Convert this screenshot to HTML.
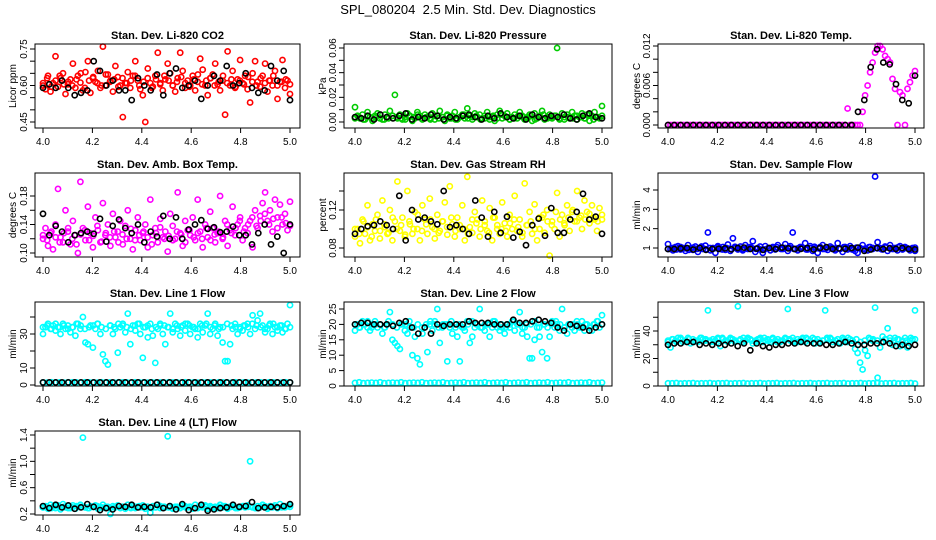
<!DOCTYPE html>
<html><head><meta charset="utf-8"><style>
html,body{margin:0;padding:0;background:#fff;}
svg{display:block;font-family:"Liberation Sans",sans-serif;}
</style></head><body>
<svg id="chart" width="936" height="540" viewBox="0 0 936 540">
<text x="468" y="14" text-anchor="middle" font-size="13" style="white-space:pre">SPL_080204  2.5 Min. Std. Dev. Diagnostics</text>
</svg>
<script>
// ---- data (scaled units per panel) ----
const xTickVals = [4.0, 4.2, 4.4, 4.6, 4.8, 5.0];
const xTickLabels = ["4.0", "4.2", "4.4", "4.6", "4.8", "5.0"];

const co2Red = [600,585,640,575,610,720,595,630,650,565,605,625,690,590,640,612,580,655,700,570,630,615,660,590,760,600,645,620,575,680,635,600,470,610,655,590,640,700,620,585,560,450,670,610,595,640,735,610,580,625,690,650,600,575,630,735,660,590,620,600,640,580,615,710,665,600,560,630,645,690,605,580,620,480,740,600,660,590,625,705,610,640,585,530,650,700,615,595,640,690,575,620,600,660,545,615,705,590,620,565];
const co2RedBand = [610,630,595,620,640,605,615,600,625,650,590,620,635,610,600,645,615,625,595,630,610,620,640,600,615,630,590,625,605,640,620,600,615,635,610,595,625,645,605,620,630,600,615,640,610,625,595,620,605,635,615,600,630,610,620,640,600,615,625,605];
const co2Black = [590,605,590,620,590,560,570,580,700,660,600,620,580,580,540,630,600,580,645,560,650,670,590,600,620,545,600,640,620,680,600,610,650,590,570,580,680,620,660,540];

const presGreen = [12,5,3,6,2,8,4,1,5,7,3,2,6,4,9,5,22,3,6,2,4,7,5,1,3,8,5,2,6,4,3,7,2,5,9,4,1,6,3,5,8,2,4,6,3,11,5,2,7,4,6,3,5,8,2,4,1,6,9,3,5,7,2,4,6,3,8,5,2,4,6,1,7,3,5,9,2,4,6,3,5,60,2,7,4,6,3,8,5,2,4,7,3,6,1,5,8,4,3,13];
const presGreenBand = [3,4,2,5,3,4,6,2,3,5,4,3,2,5,4,6,3,4,2,5,3,4,5,3,2,4,6,3,4,5,2,3,4,5,3,6,4,2,3,5,4,3,5,2,4,6,3,4,5,3,2,4,3,5,4,3,6,2,4,5];
const presBlack = [4,3,5,2,6,4,3,5,7,2,4,3,6,5,2,4,3,5,6,4,2,5,3,7,4,3,5,2,6,4,3,5,4,6,3,2,5,7,4,3];

const tempMag = [0,0,0,0,0,0,0,0,0,0,0,0,0,0,0,0,0,0,0,0,0,0,0,0,0,0,0,0,0,0,0,0,0,0,0,0,0,0,0,0,0,0,0,0,0,0,0,0,0,0,0,0,0,0,0,0,0,0,0,0,0,0,0,0,0,0,0,0,0,0,0,0,25,0,0,0,0,0,20,45,60,80,95,110,120,120,115,105,100,95,70,55,0,50,45,0,55,65,75,82];
const tempBlack = [0,0,0,0,0,0,0,0,0,0,0,0,0,0,0,0,0,0,0,0,0,0,0,0,0,0,0,0,0,0,20,38,88,115,95,92,62,38,33,75];

const ambMag = [120,135,110,128,105,140,190,122,115,160,130,112,145,125,100,200,135,118,165,128,108,150,132,115,170,125,140,110,155,122,130,145,112,138,160,120,105,132,150,118,128,140,108,175,125,135,115,148,122,130,102,155,138,120,185,128,110,145,132,125,150,118,175,130,108,140,122,158,135,115,128,180,120,145,110,132,165,125,140,150,118,135,128,145,108,160,135,152,170,185,145,160,130,175,150,168,140,155,132,172];
const ambMagBand = [125,118,130,122,115,128,135,120,112,126,132,118,124,138,116,128,122,130,115,126,120,134,118,125,130,122,112,128,136,120,124,118,130,126,115,132,122,128,120,135,118,126,130,122,140,128,135,145,130,140,150,138,145,155,140,148,135,150,142,138];
const ambBlack = [155,125,138,130,115,125,128,130,127,148,116,138,147,135,128,140,115,130,123,152,120,150,120,133,140,146,134,136,129,130,137,125,125,112,128,140,112,123,100,140];

const rhYellow = [92,100,85,110,95,125,88,105,98,115,90,130,102,95,120,88,108,150,98,112,92,140,105,95,118,100,88,125,110,95,132,102,90,115,98,108,128,94,145,105,92,112,100,125,88,155,102,96,118,110,92,130,104,98,122,88,112,100,95,128,106,92,115,100,135,98,110,92,148,104,118,95,126,88,100,112,96,120,72,108,100,138,92,115,104,125,98,118,108,140,112,100,130,118,106,125,110,98,122,115];
const rhYellowBand = [100,95,108,102,92,110,98,105,96,112,100,104,94,108,100,115,98,105,110,100,96,108,102,112,98,104,100,95,110,106,100,108,96,112,104,100,98,106,110,102,96,104,108,100,112,115,108,104,118,110,106,112,120,108,114,110,116,112,108,110];
const rhBlack = [95,100,103,104,108,104,100,135,88,120,110,112,108,105,140,102,104,100,95,130,112,92,118,96,113,91,97,83,104,111,93,122,96,96,110,118,137,110,113,95];

const flowBlue = [120,95,88,105,110,92,100,85,115,98,90,108,80,102,95,112,180,88,100,75,110,95,105,90,118,85,150,100,92,108,88,115,95,105,135,80,100,92,75,110,98,88,105,92,115,100,95,120,85,110,180,95,88,105,100,125,92,110,85,98,75,105,115,95,90,108,100,88,125,95,80,105,92,110,98,85,75,100,115,92,88,105,95,470,130,100,92,108,85,115,95,100,88,110,92,105,98,88,100,85];
const flowBlueBand = [95,100,92,105,98,90,102,96,108,94,100,98,104,92,100,96,106,98,94,102,100,96,108,92,100,98,104,95,100,102,96,98,104,92,100,106,98,95,102,100,96,98,104,100,92,102,98,96,104,100,98,94,102,100,96,104,98,100,95,102];
const flowBlack = [95,95,98,100,92,100,90,95,96,98,93,100,102,95,97,90,100,95,102,98,95,96,100,92,100,104,95,98,96,100,102,85,92,100,95,98,96,100,95,93];

const line1Cyan = [30,34,36,33,35,32,34,30,36,33,35,31,34,29,36,33,40,25,24,35,22,33,36,30,18,14,12,35,30,33,19,34,36,31,42,24,35,32,36,30,16,34,28,36,29,13,33,35,30,24,34,42,31,36,33,29,35,32,36,30,34,33,28,36,31,35,42,30,33,36,29,34,25,14,14,24,33,36,30,34,32,35,36,30,41,33,38,42,35,31,33,36,30,34,32,35,31,33,36,47];
const line1CyanBand = [34,35,33,36,34,35,33,34,36,35,33,34,35,36,34,33,35,34,36,35,34,33,35,36,34,35,33,34,36,35,34,33,35,34,36,35,34,33,35,36,34,35,33,34,36,35,34,33,35,34,36,35,34,33,35,36,34,35,33,34];
const line1CyanLow = [1.5,1.4,1.6,1.5,1.5,1.4,1.6,1.5,1.5,1.4,1.6,1.5,1.5,1.4,1.6,1.5,1.5,1.4,1.6,1.5,1.5,1.4,1.6,1.5,1.5,1.4,1.6,1.5,1.5,1.4,1.6,1.5,1.5,1.4,1.6,1.5,1.5,1.4,1.6,1.5,1.5,1.4,1.6,1.5,1.5,1.4,1.6,1.5,1.5,1.4,1.6,1.5,1.5,1.4,1.6,1.5,1.5,1.4,1.6,1.5];
const line1Black = [1.5,1.5,1.5,1.5,1.5,1.5,1.5,1.5,1.5,1.5,1.5,1.5,1.5,1.5,1.5,1.5,1.5,1.5,1.5,1.5,1.5,1.5,1.5,1.5,1.5,1.5,1.5,1.5,1.5,1.5,1.5,1.5,1.5,1.5,1.5,1.5,1.5,1.5,1.5,1.5];

const line2Cyan = [18,20,19,21,20,19,18,20,21,19,20,17,19,20,24,15,14,13,12,20,18,17,19,10,16,9,7,17,19,11,20,18,21,25,14,19,20,8,19,17,20,16,8,19,18,21,14,16,19,20,25,19,18,20,16,19,21,20,18,19,17,20,19,21,18,20,24,17,19,16,9,9,15,19,16,11,20,9,16,21,19,20,18,25,19,17,20,19,18,20,19,21,18,20,19,18,20,21,19,23];
const line2CyanBand = [20,19,20,21,19,20,20,19,21,20,19,20,20,21,19,20,19,20,21,20,19,20,20,21,19,20,19,20,21,20,19,20,20,21,19,20,19,20,21,20,19,20,20,21,19,20,19,20,21,20,19,20,20,21,19,20,19,20,21,20];
const line2CyanLow = [1,1.2,0.9,1,1.1,1,1.2,0.9,1,1.1,1,1.2,0.9,1,1.1,1,1.2,0.9,1,1.1,1,1.2,0.9,1,1.1,1,1.2,0.9,1,1.1,1,1.2,0.9,1,1.1,1,1.2,0.9,1,1.1,1,1.2,0.9,1,1.1,1,1.2,0.9,1,1.1,1,1.2,0.9,1,1.1,1,1.2,0.9,1,1.1];
const line2Black = [20,20.5,20.5,20,20,20,19.5,20.5,21,19,17,19,17,20,19.5,20,20,20,21,20.5,20.5,20.5,20,20,20,21.5,20.5,20.5,21,21.5,21,20.5,19,18,20,19.5,19,18,19,20];

const line3Cyan = [32,28,34,33,35,34,32,33,35,31,34,33,32,35,34,33,55,32,34,33,35,29,34,33,32,35,34,33,58,34,32,33,35,34,31,33,34,35,32,33,34,32,35,33,34,32,33,34,56,33,35,32,34,33,35,32,34,33,35,31,34,32,33,55,34,35,32,33,34,31,35,33,32,34,33,27,24,17,12,26,22,34,33,57,6,28,36,34,42,33,30,35,34,29,33,35,28,33,34,55];
const line3CyanBand = [33,34,32,35,33,34,32,33,35,34,33,32,34,35,33,34,32,33,35,34,33,32,34,35,33,34,32,33,35,34,33,32,34,35,33,34,32,33,35,34,33,32,34,35,33,34,32,33,35,34,33,32,34,35,33,34,32,33,35,34];
const line3CyanLow = [2,2,2.2,1.8,2,2,2.2,1.8,2,2,2.2,1.8,2,2,2.2,1.8,2,2,2.2,1.8,2,2,2.2,1.8,2,2,2.2,1.8,2,2,2.2,1.8,2,2,2.2,1.8,2,2,2.2,1.8,2,2,2.2,1.8,2,2,2.2,1.8,2,2,2.2,1.8,2,2,2.2,1.8,2,2,2.2,1.8];
const line3Black = [30,31,31,32,32,30,31,30,31,30,31,29,31,26,31,29,28,30,30,31,31,32,31,31,31,30,30,31,32,31,30,30,31,31,32,31,29,30,29,30];

const line4Cyan = [30,32,28,34,31,29,33,27,35,30,32,29,33,28,31,34,136,30,29,32,31,33,28,30,34,29,31,20,32,30,33,29,31,28,34,30,32,29,31,30,33,28,31,22,32,30,34,29,31,30,138,32,28,31,30,29,33,32,30,31,28,34,29,31,30,33,28,32,30,31,29,34,30,32,28,31,33,30,29,31,32,30,33,100,31,29,32,30,34,31,28,32,30,33,29,35,31,30,32,34];
const line4CyanBand = [30,31,29,32,30,31,29,30,32,31,30,29,31,32,30,31,29,30,32,31,30,29,31,32,30,31,29,30,32,31,30,29,31,32,30,31,29,30,32,31,30,29,31,32,30,31,29,30,32,31,30,29,31,32,30,31,29,30,32,31];
const line4Black = [32,29,34,30,33,28,30,35,31,26,29,27,32,31,34,30,31,30,34,29,32,27,35,26,29,34,25,27,29,30,34,31,32,38,29,30,31,30,32,35];

// ---- panel definitions (layout) ----
const cols = [{l:35,r:300,x4:43,x5:290,yl:12},{l:344,r:612,x4:355,x5:602,yl:322},{l:658,r:924,x4:668,x5:915,yl:636}];
const rows = [44,173,302,431];
const panels = [
 {name:"co2",title:"Stan. Dev. Li-820 CO2",ylab:"Licor ppm",c:0,r:0,a:[750,49],b:[450,122],ticks:[450,500,550,600,650,700,750],labs:{450:"0.45",600:"0.60",750:"0.75"},series:[[co2Red,"#ff0000"],[co2RedBand,"#ff0000"],[co2Black,"#000"]]},
 {name:"pressure",title:"Stan. Dev. Li-820 Pressure",ylab:"kPa",c:1,r:0,a:[60,48],b:[0,122],ticks:[0,10,20,30,40,50,60],labs:{0:"0.00",20:"0.02",40:"0.04",60:"0.06"},series:[[presGreen,"#00cc00"],[presGreenBand,"#00cc00"],[presBlack,"#000"]]},
 {name:"li820-temp",title:"Stan. Dev. Li-820 Temp.",ylab:"degrees C",c:2,r:0,a:[120,46],b:[0,125],ticks:[0,20,40,60,80,100,120],labs:{0:"0.000",60:"0.006",120:"0.012"},series:[[tempMag,"#ff00ff"],[tempBlack,"#000"]]},
 {name:"amb-box-temp",title:"Stan. Dev. Amb. Box Temp.",ylab:"degrees C",c:0,r:1,a:[180,196],b:[100,253],ticks:[100,120,140,160,180],labs:{100:"0.10",140:"0.14",180:"0.18"},series:[[ambMag,"#ff00ff"],[ambMagBand,"#ff00ff"],[ambBlack,"#000"]]},
 {name:"gas-stream-rh",title:"Stan. Dev. Gas Stream RH",ylab:"percent",c:1,r:1,a:[120,210],b:[80,248],ticks:[80,100,120,140],labs:{80:"0.08",120:"0.12"},series:[[rhYellow,"#ffff00"],[rhYellowBand,"#ffff00"],[rhBlack,"#000"]]},
 {name:"sample-flow",title:"Stan. Dev. Sample Flow",ylab:"ml/min",c:2,r:1,a:[400,190],b:[100,248],ticks:[100,200,300,400],labs:{100:"1",200:"2",300:"3",400:"4"},series:[[flowBlue,"#0000ff"],[flowBlueBand,"#0000ff"],[flowBlack,"#000"]]},
 {name:"line1-flow",title:"Stan. Dev. Line 1 Flow",ylab:"ml/min",c:0,r:2,a:[30,334],b:[0,385],ticks:[0,10,20,30,40],labs:{0:"0",10:"10",30:"30"},series:[[line1Cyan,"#00ffff"],[line1CyanBand,"#00ffff"],[line1CyanLow,"#00ffff"],[line1Black,"#000"]]},
 {name:"line2-flow",title:"Stan. Dev. Line 2 Flow",ylab:"ml/min",c:1,r:2,a:[25,309],b:[0,386],ticks:[0,5,10,15,20,25],labs:{0:"0",5:"5",10:"10",15:"15",20:"20",25:"25"},series:[[line2Cyan,"#00ffff"],[line2CyanBand,"#00ffff"],[line2CyanLow,"#00ffff"],[line2Black,"#000"]]},
 {name:"line3-flow",title:"Stan. Dev. Line 3 Flow",ylab:"ml/min",c:2,r:2,a:[40,331],b:[0,386],ticks:[0,10,20,30,40,50],labs:{0:"0",20:"20",40:"40"},series:[[line3Cyan,"#00ffff"],[line3CyanBand,"#00ffff"],[line3CyanLow,"#00ffff"],[line3Black,"#000"]]},
 {name:"line4-flow",title:"Stan. Dev. Line 4 (LT) Flow",ylab:"ml/min",c:0,r:3,a:[140,435],b:[20,514],ticks:[20,40,60,80,100,120,140],labs:{20:"0.2",60:"0.6",100:"1.0",140:"1.4"},series:[[line4Cyan,"#00ffff"],[line4CyanBand,"#00ffff"],[line4Black,"#000"]]}
];

const NS = "http://www.w3.org/2000/svg";
const svg = document.getElementById("chart");
function mk(tag, attrs, parent){ const e=document.createElementNS(NS,tag); for(const k in attrs) e.setAttribute(k,attrs[k]); parent.appendChild(e); return e; }

panels.forEach(p=>{
  const col=cols[p.c], top=rows[p.r], bot=top+84;
  const g=mk("g",{},svg);
  
  
  const xs=v=>col.x4+(v-4)*(col.x5-col.x4);
  const ys=v=>p.b[1]+(v-p.b[0])*(p.a[1]-p.b[1])/(p.a[0]-p.b[0]);
  const t=mk("text",{x:(col.l+col.r)/2,y:top-5,"text-anchor":"middle","font-size":"11","font-weight":"bold"},g);
  t.textContent=p.title;
  
  
  const yl=mk("text",{x:0,y:0,transform:`translate(${col.yl+4},${(top+bot)/2}) rotate(-90)`,"text-anchor":"middle","font-size":"10"},g);
  yl.textContent=p.ylab;
  
  
  p.series.forEach(([arr,color])=>{
    const n=arr.length;
    arr.forEach((v,i)=>{
      const c=mk("circle",{cx:xs(4+i/(n-1)).toFixed(1),cy:ys(v).toFixed(1),r:2.6,fill:"none",stroke:color,"stroke-width":1.6},g);
      
      
    });
  });
  const bx=mk("rect",{x:col.l,y:top,width:col.r-col.l,height:bot-top,fill:"none",stroke:"#000","stroke-width":1},g);
  
  
  xTickVals.forEach((v,i)=>{
    mk("line",{x1:xs(v),x2:xs(v),y1:bot,y2:bot+5,stroke:"#000"},g);
    const tl=mk("text",{x:xs(v),y:bot+17,"text-anchor":"middle","font-size":"10"},g);
    tl.textContent=xTickLabels[i];
    
    
  });
  p.ticks.forEach(v=>{
    mk("line",{x1:col.l,x2:col.l-5,y1:ys(v),y2:ys(v),stroke:"#000"},g);
    if(p.labs[v]!==undefined){
      const tl=mk("text",{x:0,y:0,transform:`translate(${col.l-8},${ys(v)}) rotate(-90)`,"text-anchor":"middle","font-size":"10"},g);
      tl.textContent=p.labs[v];
      
      
    }
  });
});
</script>
</body></html>
